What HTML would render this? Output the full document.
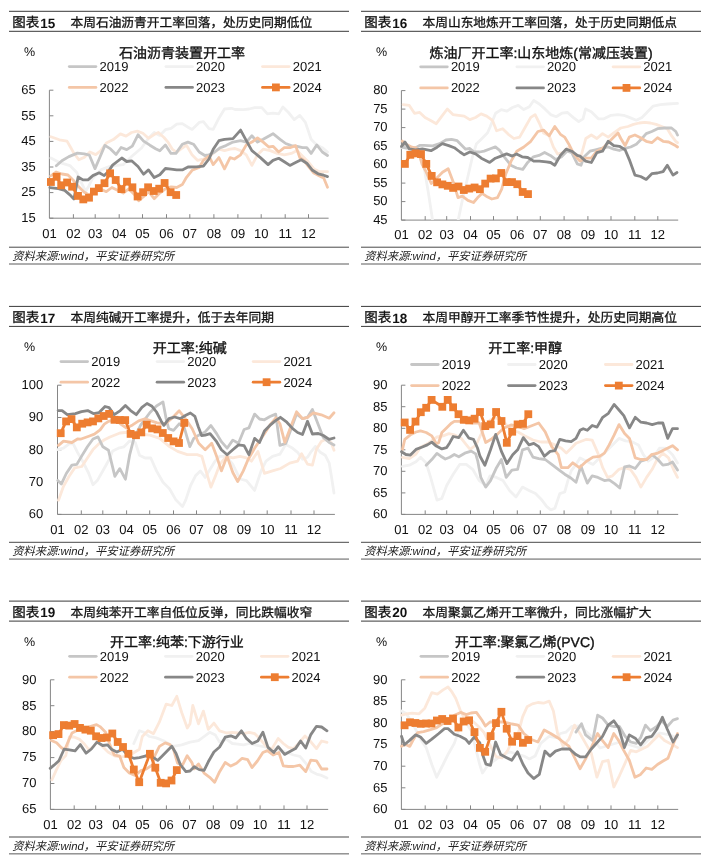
<!DOCTYPE html><html lang="zh-CN"><head><meta charset="utf-8"><style>html,body{margin:0;padding:0;background:#fff;}svg{display:block;filter:blur(0.3px);}text{font-family:"Liberation Sans", sans-serif;text-rendering:geometricPrecision;}</style></head><body>
<svg width="710" height="863" viewBox="0 0 710 863">
<rect width="710" height="863" fill="#fff"/>
<rect x="9" y="10.8" width="340" height="1" fill="#3a3a3a"/>
<rect x="9" y="30.8" width="340" height="1" fill="#3a3a3a"/>
<text x="12.2" y="27.2" font-size="13.5" fill="#111"><tspan stroke="#111" stroke-width="0.3">图表</tspan><tspan font-weight="bold" dx="1" dy="0.4">15</tspan></text>
<text x="70.5" y="27.1" font-size="12.73" fill="#111" stroke="#111" stroke-width="0.3">本周石油沥青开工率回落，处历史同期低位</text>
<rect x="9" y="246.7" width="340" height="1" fill="#4a4a4a"/>
<rect x="9" y="263.3" width="340" height="1.4" fill="#8a8a8a"/>
<text x="12.2" y="260.1" font-size="11.3" font-style="italic" fill="#222">资料来源:wind，平安证券研究所</text>
<text x="24" y="55.8" font-size="12.5" fill="#111">%</text>
<text x="118.9" y="57.6" font-size="14" fill="#111" stroke="#111" stroke-width="0.35">石油沥青装置开工率</text>
<line x1="69.3" y1="66.6" x2="95.9" y2="66.6" stroke="#c6c6c6" stroke-width="2.8" stroke-linecap="round"/>
<text x="99.5" y="71" font-size="13" fill="#111">2019</text>
<line x1="165.9" y1="66.6" x2="192.5" y2="66.6" stroke="#f1f1f1" stroke-width="2.8" stroke-linecap="round"/>
<text x="196.1" y="71" font-size="13" fill="#111">2020</text>
<line x1="262.5" y1="66.6" x2="289.1" y2="66.6" stroke="#fce8da" stroke-width="2.8" stroke-linecap="round"/>
<text x="292.7" y="71" font-size="13" fill="#111">2021</text>
<line x1="69.3" y1="87.4" x2="95.9" y2="87.4" stroke="#f4c6a7" stroke-width="2.8" stroke-linecap="round"/>
<text x="99.5" y="91.8" font-size="13" fill="#111">2022</text>
<line x1="165.9" y1="87.4" x2="192.5" y2="87.4" stroke="#878787" stroke-width="2.8" stroke-linecap="round"/>
<text x="196.1" y="91.8" font-size="13" fill="#111">2023</text>
<line x1="262.5" y1="87.4" x2="289.1" y2="87.4" stroke="#ed7d31" stroke-width="2.8" stroke-linecap="round"/>
<rect x="272" y="83.5" width="7.8" height="7.8" fill="#ed7d31"/>
<text x="292.7" y="91.8" font-size="13" fill="#111">2024</text>
<path d="M49.4 90.2V218.2H328.6" fill="none" stroke="#868686" stroke-width="1"/>
<line x1="49.4" y1="218.2" x2="53.4" y2="218.2" stroke="#868686" stroke-width="1"/>
<text x="35.8" y="222" font-size="13" text-anchor="end" fill="#111">15</text>
<line x1="49.4" y1="192.6" x2="53.4" y2="192.6" stroke="#868686" stroke-width="1"/>
<text x="35.8" y="196.4" font-size="13" text-anchor="end" fill="#111">25</text>
<line x1="49.4" y1="167" x2="53.4" y2="167" stroke="#868686" stroke-width="1"/>
<text x="35.8" y="170.8" font-size="13" text-anchor="end" fill="#111">35</text>
<line x1="49.4" y1="141.4" x2="53.4" y2="141.4" stroke="#868686" stroke-width="1"/>
<text x="35.8" y="145.2" font-size="13" text-anchor="end" fill="#111">45</text>
<line x1="49.4" y1="115.8" x2="53.4" y2="115.8" stroke="#868686" stroke-width="1"/>
<text x="35.8" y="119.6" font-size="13" text-anchor="end" fill="#111">55</text>
<line x1="49.4" y1="90.2" x2="53.4" y2="90.2" stroke="#868686" stroke-width="1"/>
<text x="35.8" y="94" font-size="13" text-anchor="end" fill="#111">65</text>
<text x="49.4" y="237.6" font-size="13" text-anchor="middle" fill="#111">01</text>
<line x1="73.4" y1="218.2" x2="73.4" y2="214.2" stroke="#868686" stroke-width="1"/>
<text x="73.4" y="237.6" font-size="13" text-anchor="middle" fill="#111">02</text>
<line x1="95.2" y1="218.2" x2="95.2" y2="214.2" stroke="#868686" stroke-width="1"/>
<text x="95.2" y="237.6" font-size="13" text-anchor="middle" fill="#111">03</text>
<line x1="119.2" y1="218.2" x2="119.2" y2="214.2" stroke="#868686" stroke-width="1"/>
<text x="119.2" y="237.6" font-size="13" text-anchor="middle" fill="#111">04</text>
<line x1="142.5" y1="218.2" x2="142.5" y2="214.2" stroke="#868686" stroke-width="1"/>
<text x="142.5" y="237.6" font-size="13" text-anchor="middle" fill="#111">05</text>
<line x1="166.5" y1="218.2" x2="166.5" y2="214.2" stroke="#868686" stroke-width="1"/>
<text x="166.5" y="237.6" font-size="13" text-anchor="middle" fill="#111">06</text>
<line x1="189.8" y1="218.2" x2="189.8" y2="214.2" stroke="#868686" stroke-width="1"/>
<text x="189.8" y="237.6" font-size="13" text-anchor="middle" fill="#111">07</text>
<line x1="213.9" y1="218.2" x2="213.9" y2="214.2" stroke="#868686" stroke-width="1"/>
<text x="213.9" y="237.6" font-size="13" text-anchor="middle" fill="#111">08</text>
<line x1="237.9" y1="218.2" x2="237.9" y2="214.2" stroke="#868686" stroke-width="1"/>
<text x="237.9" y="237.6" font-size="13" text-anchor="middle" fill="#111">09</text>
<line x1="261.2" y1="218.2" x2="261.2" y2="214.2" stroke="#868686" stroke-width="1"/>
<text x="261.2" y="237.6" font-size="13" text-anchor="middle" fill="#111">10</text>
<line x1="285.2" y1="218.2" x2="285.2" y2="214.2" stroke="#868686" stroke-width="1"/>
<text x="285.2" y="237.6" font-size="13" text-anchor="middle" fill="#111">11</text>
<line x1="308.5" y1="218.2" x2="308.5" y2="214.2" stroke="#868686" stroke-width="1"/>
<text x="308.5" y="237.6" font-size="13" text-anchor="middle" fill="#111">12</text>
<clipPath id="cp0"><rect x="44.4" y="78.2" width="285.2" height="140"/></clipPath>
<g clip-path="url(#cp0)">
<polyline points="50.9,158 60,162.7 69.9,165.6 76.8,172.5 80.7,181.4 83.7,187.3 85.6,191.3 88.6,186.4 92.5,178.5 101.4,169.6 109.3,166.6 115.2,165.6 123.1,164.7 131.6,156.5 141.5,148 148.5,138.2 154.2,132.5 159.8,135.4 165.4,129.7 171.1,128.3 176.7,124.1 182.3,123.6 189.3,128 192.1,129.4 199.2,122.4 203.4,121.7 209,128.7 213.2,129.4 218.9,118.2 224.5,109 231.5,108.3 235,109.5 243.5,109.7 249.1,109 254.7,107.6 261.8,107.6 267.4,113.9 273,113.2 278.7,113.9 282.9,106.9 288.5,112.5 294.2,119.6 299.8,115.4 305.4,122.4 311.1,139.3 316.7,144.9 322.3,147.7 327.5,152" fill="none" stroke="#f1f1f1" stroke-width="2.8" stroke-linejoin="round" stroke-linecap="round"/>
<polyline points="50.9,136.8 59.4,139.8 67,141.1 70.4,147 73.7,152.9 78.8,159.7 84.7,157.1 89.8,152 95.7,154.6 100.6,150.8 106.3,143.1 113.3,139.6 120.4,133.9 126,136.1 131.6,132.5 137.3,131.1 142.9,133.2 148.5,138.2 154.2,134.6 158.4,132.5 164,137.5 168.2,142.4 172.5,149.4 176.7,152.3 182.3,148 186.5,145.2 192.2,155.1 197.7,160.4 203.4,159 207.6,157.6 213.2,153.4 218.9,149.2 224.5,150.6 230.1,149.2 235,148.5 240.6,150.6 246.3,154.8 251.9,165.4 257.5,154.8 263.2,149.2 270.2,150.6 277.3,153.4 284.3,154.8 291.3,153.4 297,150.6 302.6,156.2 308.2,161.8 313.9,168.9 319.5,171.7 327.5,171.7" fill="none" stroke="#fce8da" stroke-width="2.8" stroke-linejoin="round" stroke-linecap="round"/>
<polyline points="56.3,165.8 61.9,160.8 68.9,156.6 77.4,153.1 84.4,153.8 89.4,155.2 95,168.6 99.9,157.3 104.9,145.4 110.5,148.9 116.1,154.5 121.1,147.5 126.7,149.6 132.3,146.1 138,134.8 143.6,141.1 149.9,145.2 155.6,148.7 159.8,150.8 165.4,144.9 171,153.4 175.9,153.4 182.3,144.2 187.9,142.1 193.5,144.2 199.2,152 204.8,155.5 209,154.8 214.6,152 220.3,147.7 225.9,145.6 233,142.1 240.6,140.7 246.3,142.1 251.9,135.8 257.5,142.1 263.2,139.3 273,133.7 280.1,139.3 285.7,143.5 291.3,145.6 297,146.3 302.6,147.7 306.8,147.7 311.1,153.4 316.7,144.9 322.3,152 327.5,155.5" fill="none" stroke="#c6c6c6" stroke-width="2.8" stroke-linejoin="round" stroke-linecap="round"/>
<polyline points="50.6,176 56,172 62,174 68,175 73,180 78,186 84,192 89,195 95,190.3 100.6,188.9 106.3,191.7 111.9,187.5 117.5,190.3 123.2,193.1 128.8,188.9 134.4,194.5 138.7,200.8 144.3,195.9 148.5,191.7 154.2,198.7 159.8,193.1 165.4,188.9 171.1,186.8 176.7,187.5 182.3,184.6 186.5,177.3 192.1,170.3 199.2,167.5 203.4,160.4 209,156.2 213.2,164.6 218.9,157.6 224.5,168.9 230.1,157.6 234.4,159 240.6,154.8 246.3,144.9 251.9,142.1 257.5,137.9 263.2,142.1 268.8,147 273,146.3 278.7,152 284.3,147.7 289.9,147.7 295.6,145.6 299.8,157.6 304,160.4 308.2,166.1 313.9,173.1 319.5,175.9 323.7,178 327.5,187.2" fill="none" stroke="#f4c6a7" stroke-width="2.8" stroke-linejoin="round" stroke-linecap="round"/>
<polyline points="49.9,187.6 58.4,188.7 64.7,190.4 69.6,194.6 73.9,198.9 78.1,177 83,179.9 88,179.9 92.9,175.6 99.2,172.8 104.2,175.6 108.4,171.4 112.6,165.1 121.8,158 126.7,161.5 131.6,160.8 138,166.5 143.6,174.2 148.5,169.9 154.2,177.6 159.8,174.8 165.4,168.5 171.1,169.2 176.7,169.9 182.3,169.9 188,167 196.3,166.8 203.4,166.1 209,159 213.2,149.2 218.9,140.7 224.5,139.3 233,138.6 240.6,130.1 246.3,140.7 251.9,150.6 260.4,157.6 268.1,164.6 273,160.4 278.7,158.3 284.3,161.8 289.9,165.4 295.6,162.5 301.2,159.7 306.8,163.2 312.5,170.3 318.1,173.8 323.7,175.2 327.5,176.6" fill="none" stroke="#878787" stroke-width="2.8" stroke-linejoin="round" stroke-linecap="round"/>
<polyline points="50.9,182 56.6,176.8 61.2,185.3 67.1,182.5 72.1,186.7 78,195.9 83.3,199.4 89,197.7 93.9,191.6 98.8,188.1 104.5,183.2 110.1,173.3 115.7,180 121.4,189.1 127,181.7 132.4,187.3 137.6,196.5 143.1,192.2 148.1,187.3 153.8,191 159.2,188.7 164.6,183 170.6,192.2 176.2,195" fill="none" stroke="#ed7d31" stroke-width="2.8" stroke-linejoin="round" stroke-linecap="round"/>
<rect x="47" y="178.1" width="7.8" height="7.8" fill="#ed7d31"/>
<rect x="52.7" y="172.9" width="7.8" height="7.8" fill="#ed7d31"/>
<rect x="57.3" y="181.4" width="7.8" height="7.8" fill="#ed7d31"/>
<rect x="63.2" y="178.6" width="7.8" height="7.8" fill="#ed7d31"/>
<rect x="68.2" y="182.8" width="7.8" height="7.8" fill="#ed7d31"/>
<rect x="74.1" y="192" width="7.8" height="7.8" fill="#ed7d31"/>
<rect x="79.4" y="195.5" width="7.8" height="7.8" fill="#ed7d31"/>
<rect x="85.1" y="193.8" width="7.8" height="7.8" fill="#ed7d31"/>
<rect x="90" y="187.7" width="7.8" height="7.8" fill="#ed7d31"/>
<rect x="94.9" y="184.2" width="7.8" height="7.8" fill="#ed7d31"/>
<rect x="100.6" y="179.3" width="7.8" height="7.8" fill="#ed7d31"/>
<rect x="106.2" y="169.4" width="7.8" height="7.8" fill="#ed7d31"/>
<rect x="111.8" y="176.1" width="7.8" height="7.8" fill="#ed7d31"/>
<rect x="117.5" y="185.2" width="7.8" height="7.8" fill="#ed7d31"/>
<rect x="123.1" y="177.8" width="7.8" height="7.8" fill="#ed7d31"/>
<rect x="128.5" y="183.4" width="7.8" height="7.8" fill="#ed7d31"/>
<rect x="133.7" y="192.6" width="7.8" height="7.8" fill="#ed7d31"/>
<rect x="139.2" y="188.3" width="7.8" height="7.8" fill="#ed7d31"/>
<rect x="144.2" y="183.4" width="7.8" height="7.8" fill="#ed7d31"/>
<rect x="149.9" y="187.1" width="7.8" height="7.8" fill="#ed7d31"/>
<rect x="155.3" y="184.8" width="7.8" height="7.8" fill="#ed7d31"/>
<rect x="160.7" y="179.1" width="7.8" height="7.8" fill="#ed7d31"/>
<rect x="166.7" y="188.3" width="7.8" height="7.8" fill="#ed7d31"/>
<rect x="172.3" y="191.1" width="7.8" height="7.8" fill="#ed7d31"/>
</g>
<rect x="361" y="10.8" width="340" height="1" fill="#3a3a3a"/>
<rect x="361" y="30.8" width="340" height="1" fill="#3a3a3a"/>
<text x="364.2" y="27.2" font-size="13.5" fill="#111"><tspan stroke="#111" stroke-width="0.3">图表</tspan><tspan font-weight="bold" dx="1" dy="0.4">16</tspan></text>
<text x="422.5" y="27.1" font-size="12.73" fill="#111" stroke="#111" stroke-width="0.3">本周山东地炼开工率回落，处于历史同期低点</text>
<rect x="361" y="246.7" width="340" height="1" fill="#4a4a4a"/>
<rect x="361" y="263.3" width="340" height="1.4" fill="#8a8a8a"/>
<text x="364.2" y="260.1" font-size="11.3" font-style="italic" fill="#222">资料来源:wind，平安证券研究所</text>
<text x="376" y="55.8" font-size="12.5" fill="#111">%</text>
<text x="429.4" y="57.6" font-size="14" fill="#111" stroke="#111" stroke-width="0.35">炼油厂开工率:山东地炼(常减压装置)</text>
<line x1="420.7" y1="66.8" x2="447.3" y2="66.8" stroke="#c6c6c6" stroke-width="2.8" stroke-linecap="round"/>
<text x="450.9" y="71.2" font-size="13" fill="#111">2019</text>
<line x1="516.9" y1="66.8" x2="543.5" y2="66.8" stroke="#f1f1f1" stroke-width="2.8" stroke-linecap="round"/>
<text x="547.1" y="71.2" font-size="13" fill="#111">2020</text>
<line x1="613.1" y1="66.8" x2="639.7" y2="66.8" stroke="#fce8da" stroke-width="2.8" stroke-linecap="round"/>
<text x="643.3" y="71.2" font-size="13" fill="#111">2021</text>
<line x1="420.7" y1="87.9" x2="447.3" y2="87.9" stroke="#f4c6a7" stroke-width="2.8" stroke-linecap="round"/>
<text x="450.9" y="92.3" font-size="13" fill="#111">2022</text>
<line x1="516.9" y1="87.9" x2="543.5" y2="87.9" stroke="#878787" stroke-width="2.8" stroke-linecap="round"/>
<text x="547.1" y="92.3" font-size="13" fill="#111">2023</text>
<line x1="613.1" y1="87.9" x2="639.7" y2="87.9" stroke="#ed7d31" stroke-width="2.8" stroke-linecap="round"/>
<rect x="622.6" y="84" width="7.8" height="7.8" fill="#ed7d31"/>
<text x="643.3" y="92.3" font-size="13" fill="#111">2024</text>
<path d="M401.4 90.6V220.1H678.2" fill="none" stroke="#868686" stroke-width="1"/>
<line x1="401.4" y1="220.1" x2="405.4" y2="220.1" stroke="#868686" stroke-width="1"/>
<text x="387.6" y="223.9" font-size="13" text-anchor="end" fill="#111">45</text>
<line x1="401.4" y1="201.6" x2="405.4" y2="201.6" stroke="#868686" stroke-width="1"/>
<text x="387.6" y="205.4" font-size="13" text-anchor="end" fill="#111">50</text>
<line x1="401.4" y1="183.1" x2="405.4" y2="183.1" stroke="#868686" stroke-width="1"/>
<text x="387.6" y="186.9" font-size="13" text-anchor="end" fill="#111">55</text>
<line x1="401.4" y1="164.6" x2="405.4" y2="164.6" stroke="#868686" stroke-width="1"/>
<text x="387.6" y="168.4" font-size="13" text-anchor="end" fill="#111">60</text>
<line x1="401.4" y1="146.1" x2="405.4" y2="146.1" stroke="#868686" stroke-width="1"/>
<text x="387.6" y="149.9" font-size="13" text-anchor="end" fill="#111">65</text>
<line x1="401.4" y1="127.6" x2="405.4" y2="127.6" stroke="#868686" stroke-width="1"/>
<text x="387.6" y="131.4" font-size="13" text-anchor="end" fill="#111">70</text>
<line x1="401.4" y1="109.1" x2="405.4" y2="109.1" stroke="#868686" stroke-width="1"/>
<text x="387.6" y="112.9" font-size="13" text-anchor="end" fill="#111">75</text>
<line x1="401.4" y1="90.6" x2="405.4" y2="90.6" stroke="#868686" stroke-width="1"/>
<text x="387.6" y="94.4" font-size="13" text-anchor="end" fill="#111">80</text>
<text x="401.4" y="238.7" font-size="13" text-anchor="middle" fill="#111">01</text>
<line x1="425.2" y1="220.1" x2="425.2" y2="216.1" stroke="#868686" stroke-width="1"/>
<text x="425.2" y="238.7" font-size="13" text-anchor="middle" fill="#111">02</text>
<line x1="446.7" y1="220.1" x2="446.7" y2="216.1" stroke="#868686" stroke-width="1"/>
<text x="446.7" y="238.7" font-size="13" text-anchor="middle" fill="#111">03</text>
<line x1="470.5" y1="220.1" x2="470.5" y2="216.1" stroke="#868686" stroke-width="1"/>
<text x="470.5" y="238.7" font-size="13" text-anchor="middle" fill="#111">04</text>
<line x1="493.5" y1="220.1" x2="493.5" y2="216.1" stroke="#868686" stroke-width="1"/>
<text x="493.5" y="238.7" font-size="13" text-anchor="middle" fill="#111">05</text>
<line x1="517.3" y1="220.1" x2="517.3" y2="216.1" stroke="#868686" stroke-width="1"/>
<text x="517.3" y="238.7" font-size="13" text-anchor="middle" fill="#111">06</text>
<line x1="540.3" y1="220.1" x2="540.3" y2="216.1" stroke="#868686" stroke-width="1"/>
<text x="540.3" y="238.7" font-size="13" text-anchor="middle" fill="#111">07</text>
<line x1="564.1" y1="220.1" x2="564.1" y2="216.1" stroke="#868686" stroke-width="1"/>
<text x="564.1" y="238.7" font-size="13" text-anchor="middle" fill="#111">08</text>
<line x1="587.9" y1="220.1" x2="587.9" y2="216.1" stroke="#868686" stroke-width="1"/>
<text x="587.9" y="238.7" font-size="13" text-anchor="middle" fill="#111">09</text>
<line x1="611" y1="220.1" x2="611" y2="216.1" stroke="#868686" stroke-width="1"/>
<text x="611" y="238.7" font-size="13" text-anchor="middle" fill="#111">10</text>
<line x1="634.8" y1="220.1" x2="634.8" y2="216.1" stroke="#868686" stroke-width="1"/>
<text x="634.8" y="238.7" font-size="13" text-anchor="middle" fill="#111">11</text>
<line x1="657.8" y1="220.1" x2="657.8" y2="216.1" stroke="#868686" stroke-width="1"/>
<text x="657.8" y="238.7" font-size="13" text-anchor="middle" fill="#111">12</text>
<clipPath id="cp1"><rect x="396.4" y="78.6" width="282.8" height="141.5"/></clipPath>
<g clip-path="url(#cp1)">
<polyline points="401.5,147.5 408,148 414,150 419,155 424.2,168 428.5,193.4 432.7,221 445,226 458,221 462.3,200.4 467.9,176.5 472.1,158.2 476.3,144.1 482,138.5 487.6,132.8 490,127.3 495.6,113.2 501.3,109.6 506.9,111.1 512.5,107.5 518.2,105.4 523.8,109.6 529.4,106.8 533.7,100.5 539.3,104 544.9,108.9 550.6,114.6 556.2,116.7 561.8,113.2 567.5,112.5 573.1,117.4 578.7,121.6 583,118.8 585.6,108.9 591.3,111.8 598.3,118.8 603.9,118.8 611,115.3 618,114.6 623.7,115.3 629.3,117.4 636.3,120.2 642,117.4 647.6,111.8 653.2,106.1 660.3,104.7 667.3,104 677.5,103.3" fill="none" stroke="#f1f1f1" stroke-width="2.8" stroke-linejoin="round" stroke-linecap="round"/>
<polyline points="403.2,104.6 409.3,105.4 414.5,113.3 419.7,112.4 425,117.6 430.2,120.2 436.3,123.7 441.5,116.7 447.3,109 452.9,114.6 458.6,115.4 464.2,116.1 469.8,119.6 475.5,117.5 481.1,113.9 486.7,116.1 492.4,120.3 496.6,130.8 502.7,128.7 508.3,134.3 513.9,138.5 519.6,137.1 525.2,127.3 530.8,117.4 535.1,114.6 539.3,123 543.5,132.9 549.2,135.7 553.4,147 557.6,154 563.2,152.6 568.9,147 574.5,155.4 580.1,159.6 585.8,138.5 591.3,135 596.9,138.5 602.5,133.6 608.2,137.1 613.8,132.9 620.8,128 627.9,126.5 633.5,124.4 639.2,123 644.8,122.3 650.4,123 656.1,124.4 661.7,126.5 667.3,128.7 671.5,135.7 675.8,141.3 677.5,142.7" fill="none" stroke="#fce8da" stroke-width="2.8" stroke-linejoin="round" stroke-linecap="round"/>
<polyline points="401.5,147.2 406.7,148 415.4,148 419.7,145.4 424.1,145.4 432.8,145.9 439.7,143.7 445.9,140 451.5,139.3 457.2,140.7 461.4,144.9 465.6,149.2 469.8,148.5 474.1,152 479.7,152 484.1,151.1 489.7,149 495.4,146.9 499.6,150.4 505.2,158.2 510.8,165.2 516.5,168 522.8,169.4 527.7,162.4 533.4,156.8 539,155.4 544.6,152.5 550.3,155.4 555.9,159.6 561.5,156.8 567.2,151.1 571.7,152.6 577.3,163.9 581,165.3 584.2,156.8 589.9,151.2 595.5,149.8 601.1,148.4 608.2,147 613.8,149.1 619.4,150.5 625.1,148.4 630.7,147 636.3,144.2 642,138.5 646.2,133.6 651.8,131.5 657.5,128.7 664.5,128 671.5,128 675.8,131.5 677.5,135" fill="none" stroke="#c6c6c6" stroke-width="2.8" stroke-linejoin="round" stroke-linecap="round"/>
<polyline points="402.3,141.1 406.7,144.6 411.9,147.2 416.3,148 419.7,155.9 422,164 425.6,170.8 431.3,183.5 436.9,177.9 442.5,172.3 448.2,168.7 453.8,183.5 458,197.6 462.3,196.2 467.9,200.4 473.5,202.5 477.7,197.6 482,193.4 486.2,196.2 491.8,199 497.5,197.6 501.7,189.2 505.9,173.7 511.1,161.1 516.8,151.2 523.8,147 530.8,141.3 537.9,131.5 543.5,130.1 549.2,135.7 554.8,126.5 560.4,134.3 564.6,137.1 568.9,144.2 573.1,152.6 577.3,158.2 580,161.1 585.6,158.2 591.3,158.2 596.9,151.2 602.5,148.4 608.2,142.7 613.8,137.1 618,132.9 620.8,138.5 625.1,145.6 629.3,137.1 634.9,135 640.6,137.8 646.2,141.3 651.8,142.7 657.5,137.8 663.1,141.3 668.7,142 674.4,144.9 677.5,147" fill="none" stroke="#f4c6a7" stroke-width="2.8" stroke-linejoin="round" stroke-linecap="round"/>
<polyline points="401.5,146.3 405,142 409.3,148.9 415.4,149.8 422.3,148.9 431,150.7 437.1,147.2 442.3,143.7 448.7,145.6 454.3,147.7 460,152 464.2,154.8 469.8,152 475.6,153.9 481.3,158.2 489.7,162.4 495.4,158.2 501,156.1 506.6,153.9 512.3,156.1 516.5,153.9 522.1,156.8 527.7,157.5 533.7,161.1 539.3,161.1 546.3,161.8 550.6,162.5 554.8,165.3 560.4,155.4 566.1,149.1 571.7,151.2 577.3,155.4 580,156.1 585.6,161.1 591.3,162.5 596.9,152.6 602.5,151.2 608.2,141.3 613.8,145.6 619.4,146.3 625.1,149.8 629.3,159.6 634.9,175.1 640.6,176.5 646.2,179.4 651.8,173.7 657.5,173 663.1,171.6 667.3,165.3 673,175.1 677,172.5" fill="none" stroke="#878787" stroke-width="2.8" stroke-linejoin="round" stroke-linecap="round"/>
<polyline points="404.9,163.9 410.3,154.8 415.6,153.4 421,154.1 426.3,163.9 431.7,175.9 437.1,182.3 442.4,184.4 447.8,185.8 453.1,187.9 458.5,186.5 463.8,190 469.2,188.6 474.6,187.5 479.9,189.2 485.2,183.6 490.6,178.6 495.9,178.4 501.3,173 506.6,182.1 512,182.1 517.3,184.2 522.7,192 528,194.1" fill="none" stroke="#ed7d31" stroke-width="2.8" stroke-linejoin="round" stroke-linecap="round"/>
<rect x="401" y="160" width="7.8" height="7.8" fill="#ed7d31"/>
<rect x="406.4" y="150.9" width="7.8" height="7.8" fill="#ed7d31"/>
<rect x="411.7" y="149.5" width="7.8" height="7.8" fill="#ed7d31"/>
<rect x="417.1" y="150.2" width="7.8" height="7.8" fill="#ed7d31"/>
<rect x="422.4" y="160" width="7.8" height="7.8" fill="#ed7d31"/>
<rect x="427.8" y="172" width="7.8" height="7.8" fill="#ed7d31"/>
<rect x="433.2" y="178.4" width="7.8" height="7.8" fill="#ed7d31"/>
<rect x="438.5" y="180.5" width="7.8" height="7.8" fill="#ed7d31"/>
<rect x="443.9" y="181.9" width="7.8" height="7.8" fill="#ed7d31"/>
<rect x="449.2" y="184" width="7.8" height="7.8" fill="#ed7d31"/>
<rect x="454.6" y="182.6" width="7.8" height="7.8" fill="#ed7d31"/>
<rect x="459.9" y="186.1" width="7.8" height="7.8" fill="#ed7d31"/>
<rect x="465.3" y="184.7" width="7.8" height="7.8" fill="#ed7d31"/>
<rect x="470.7" y="183.6" width="7.8" height="7.8" fill="#ed7d31"/>
<rect x="476" y="185.3" width="7.8" height="7.8" fill="#ed7d31"/>
<rect x="481.3" y="179.7" width="7.8" height="7.8" fill="#ed7d31"/>
<rect x="486.7" y="174.7" width="7.8" height="7.8" fill="#ed7d31"/>
<rect x="492" y="174.5" width="7.8" height="7.8" fill="#ed7d31"/>
<rect x="497.4" y="169.1" width="7.8" height="7.8" fill="#ed7d31"/>
<rect x="502.7" y="178.2" width="7.8" height="7.8" fill="#ed7d31"/>
<rect x="508.1" y="178.2" width="7.8" height="7.8" fill="#ed7d31"/>
<rect x="513.4" y="180.3" width="7.8" height="7.8" fill="#ed7d31"/>
<rect x="518.8" y="188.1" width="7.8" height="7.8" fill="#ed7d31"/>
<rect x="524.1" y="190.2" width="7.8" height="7.8" fill="#ed7d31"/>
</g>
<rect x="9" y="305.9" width="340" height="1" fill="#3a3a3a"/>
<rect x="9" y="325.9" width="340" height="1" fill="#3a3a3a"/>
<text x="12.2" y="322.3" font-size="13.5" fill="#111"><tspan stroke="#111" stroke-width="0.3">图表</tspan><tspan font-weight="bold" dx="1" dy="0.4">17</tspan></text>
<text x="70.5" y="322.2" font-size="12.73" fill="#111" stroke="#111" stroke-width="0.3">本周纯碱开工率提升，低于去年同期</text>
<rect x="9" y="541.8" width="340" height="1" fill="#4a4a4a"/>
<rect x="9" y="558.4" width="340" height="1.4" fill="#8a8a8a"/>
<text x="12.2" y="555.2" font-size="11.3" font-style="italic" fill="#222">资料来源:wind，平安证券研究所</text>
<text x="24" y="350.9" font-size="12.5" fill="#111">%</text>
<text x="152.8" y="352.7" font-size="14" fill="#111" stroke="#111" stroke-width="0.35">开工率:纯碱</text>
<line x1="61" y1="361.6" x2="87.6" y2="361.6" stroke="#c6c6c6" stroke-width="2.8" stroke-linecap="round"/>
<text x="91.2" y="366" font-size="13" fill="#111">2019</text>
<line x1="157.1" y1="361.6" x2="183.7" y2="361.6" stroke="#f1f1f1" stroke-width="2.8" stroke-linecap="round"/>
<text x="187.3" y="366" font-size="13" fill="#111">2020</text>
<line x1="253.2" y1="361.6" x2="279.8" y2="361.6" stroke="#fce8da" stroke-width="2.8" stroke-linecap="round"/>
<text x="283.4" y="366" font-size="13" fill="#111">2021</text>
<line x1="61" y1="382.2" x2="87.6" y2="382.2" stroke="#f4c6a7" stroke-width="2.8" stroke-linecap="round"/>
<text x="91.2" y="386.6" font-size="13" fill="#111">2022</text>
<line x1="157.1" y1="382.2" x2="183.7" y2="382.2" stroke="#878787" stroke-width="2.8" stroke-linecap="round"/>
<text x="187.3" y="386.6" font-size="13" fill="#111">2023</text>
<line x1="253.2" y1="382.2" x2="279.8" y2="382.2" stroke="#ed7d31" stroke-width="2.8" stroke-linecap="round"/>
<rect x="262.7" y="378.3" width="7.8" height="7.8" fill="#ed7d31"/>
<text x="283.4" y="386.6" font-size="13" fill="#111">2024</text>
<path d="M57.5 385.2V514.4H334.9" fill="none" stroke="#868686" stroke-width="1"/>
<line x1="57.5" y1="514.4" x2="61.5" y2="514.4" stroke="#868686" stroke-width="1"/>
<text x="43.2" y="518.2" font-size="13" text-anchor="end" fill="#111">60</text>
<line x1="57.5" y1="482.1" x2="61.5" y2="482.1" stroke="#868686" stroke-width="1"/>
<text x="43.2" y="485.9" font-size="13" text-anchor="end" fill="#111">70</text>
<line x1="57.5" y1="449.8" x2="61.5" y2="449.8" stroke="#868686" stroke-width="1"/>
<text x="43.2" y="453.6" font-size="13" text-anchor="end" fill="#111">80</text>
<line x1="57.5" y1="417.5" x2="61.5" y2="417.5" stroke="#868686" stroke-width="1"/>
<text x="43.2" y="421.3" font-size="13" text-anchor="end" fill="#111">90</text>
<line x1="57.5" y1="385.2" x2="61.5" y2="385.2" stroke="#868686" stroke-width="1"/>
<text x="43.2" y="389" font-size="13" text-anchor="end" fill="#111">100</text>
<text x="57.5" y="533.8" font-size="13" text-anchor="middle" fill="#111">01</text>
<line x1="81.3" y1="514.4" x2="81.3" y2="510.4" stroke="#868686" stroke-width="1"/>
<text x="81.3" y="533.8" font-size="13" text-anchor="middle" fill="#111">02</text>
<line x1="102.8" y1="514.4" x2="102.8" y2="510.4" stroke="#868686" stroke-width="1"/>
<text x="102.8" y="533.8" font-size="13" text-anchor="middle" fill="#111">03</text>
<line x1="126.6" y1="514.4" x2="126.6" y2="510.4" stroke="#868686" stroke-width="1"/>
<text x="126.6" y="533.8" font-size="13" text-anchor="middle" fill="#111">04</text>
<line x1="149.7" y1="514.4" x2="149.7" y2="510.4" stroke="#868686" stroke-width="1"/>
<text x="149.7" y="533.8" font-size="13" text-anchor="middle" fill="#111">05</text>
<line x1="173.5" y1="514.4" x2="173.5" y2="510.4" stroke="#868686" stroke-width="1"/>
<text x="173.5" y="533.8" font-size="13" text-anchor="middle" fill="#111">06</text>
<line x1="196.5" y1="514.4" x2="196.5" y2="510.4" stroke="#868686" stroke-width="1"/>
<text x="196.5" y="533.8" font-size="13" text-anchor="middle" fill="#111">07</text>
<line x1="220.3" y1="514.4" x2="220.3" y2="510.4" stroke="#868686" stroke-width="1"/>
<text x="220.3" y="533.8" font-size="13" text-anchor="middle" fill="#111">08</text>
<line x1="244.1" y1="514.4" x2="244.1" y2="510.4" stroke="#868686" stroke-width="1"/>
<text x="244.1" y="533.8" font-size="13" text-anchor="middle" fill="#111">09</text>
<line x1="267.2" y1="514.4" x2="267.2" y2="510.4" stroke="#868686" stroke-width="1"/>
<text x="267.2" y="533.8" font-size="13" text-anchor="middle" fill="#111">10</text>
<line x1="291" y1="514.4" x2="291" y2="510.4" stroke="#868686" stroke-width="1"/>
<text x="291" y="533.8" font-size="13" text-anchor="middle" fill="#111">11</text>
<line x1="314" y1="514.4" x2="314" y2="510.4" stroke="#868686" stroke-width="1"/>
<text x="314" y="533.8" font-size="13" text-anchor="middle" fill="#111">12</text>
<clipPath id="cp2"><rect x="52.5" y="373.2" width="283.4" height="141.2"/></clipPath>
<g clip-path="url(#cp2)">
<polyline points="57.8,449.6 63.5,448.2 69.1,443.9 73.3,443.9 77.5,452.4 83.2,462.3 88.8,473.5 93,484.8 97.3,480.6 102.9,470.7 108.5,460.8 112.7,451 118.4,448.2 124,446.8 129.6,441.1 135.3,442.5 139.5,455.2 145.1,458 150.8,458 156.5,470.9 163,482.3 169.5,488.8 176,500.1 182.5,506.6 185.7,500.1 190.6,485.5 195.5,475.8 200.3,470.9 205.2,477.4 210.1,469.3 215,461.2 219.8,456.3 226.3,456.3 232.8,464.4 240,479 246.5,480.6 254.6,490.4 261.1,470.9 266,461.2 272.5,456.3 279.9,454.2 285.8,444.4 292.7,448.3 297.6,452.3 302.5,459.2 307.5,457.2 311.4,451.3 315.4,446.4 320.3,452.3 325.2,455.2 329.2,463.1 331.5,477 334,493" fill="none" stroke="#f1f1f1" stroke-width="2.8" stroke-linejoin="round" stroke-linecap="round"/>
<polyline points="58.5,500.3 63.5,486.2 69.1,476.3 74.7,467.9 81.8,466.5 87.4,458 93,449.6 98.7,443.9 104,440 110,437 120,433 130,432 140,434 150,435.2 159.7,438.4 169.5,446.6 177.6,451.4 187.3,454.7 197.1,454.7 201.9,456.3 206,470.9 210.9,487.1 214.9,477.4 219.8,464.4 226.3,456.3 232.8,457.9 240,456.3 246.5,457.9 251.4,461.2 257.9,451.4 264.4,473.3 272.5,470.9 280.6,468.5 289.7,463.1 297.6,461.1 301.6,453.7 307.5,464.1 312.4,465.1 316.4,449.3 321.3,441.4 325.2,439.4 331.1,442.4 334,450.3" fill="none" stroke="#fce8da" stroke-width="2.8" stroke-linejoin="round" stroke-linecap="round"/>
<polyline points="57.8,480.6 61.3,484.1 66.3,473.5 71.9,465.1 76.8,464.4 81.8,455.9 87.4,446.8 93,439 98,436.9 102.9,446.8 108.5,450.3 114.9,476.3 119.8,468.6 125.4,479.2 129.6,455.2 133.9,438.3 140.8,424.9 150,412.5 156.5,406 163,401.9 166.2,419 168.7,428.7 173.5,430.3 179.2,423.8 184.1,427.1 189.8,446.6 193.8,438.4 198.7,435.2 205.2,431.9 210.9,425.5 216.6,433.6 221.4,441.7 227.1,448.2 232.8,440.1 238.5,443.3 244.1,429.5 248.9,427.9 254.6,414.1 259.5,419 264.4,419.8 270,416.5 275.7,414.1 279.9,445.4 285.8,443.4 296.6,413.8 302.5,418.7 307.5,417.3 312.4,409.4 318.3,424.7 323.3,437.5 329.2,442.4 334,445" fill="none" stroke="#c6c6c6" stroke-width="2.8" stroke-linejoin="round" stroke-linecap="round"/>
<polyline points="58.5,445.4 63.5,441.1 71.9,442.5 77.5,439 80.4,439.2 88.8,436.2 94.4,434.1 100.1,429.9 104.3,424.2 108.5,421.4 112.5,420.3 117,419.4 120.3,423.9 126.5,428 132.6,424.9 138.7,420.8 144.9,418.8 151,420.8 157.1,422.9 165.3,423.9 171.4,418.8 179.2,410.8 185.7,419 192.2,428.7 198.7,443.3 205.2,449.8 211.7,443.3 216.6,456.3 221.4,470.9 227.1,456.3 232.8,472.5 237.7,481.5 243.3,470.9 248.1,459.5 254.6,448.2 264.4,433.6 270,425 275.9,417.8 279.9,423.7 284.8,442.4 289.7,429.6 296.6,411.8 302.5,418.7 307.5,417.3 313.4,412.8 321.3,414.8 329.2,418.2 334,412.8" fill="none" stroke="#f4c6a7" stroke-width="2.8" stroke-linejoin="round" stroke-linecap="round"/>
<polyline points="58.1,410.6 62.1,410.6 67.3,414.7 75.4,413.7 81.5,411.7 87.7,410.6 93.8,413.7 98.9,412.7 105,406.5 109.1,407.6 114.2,414.7 120.3,410.6 125.4,405.5 130.6,410.6 136.3,414.7 141.9,407.4 147,403.5 152,406.3 156.5,412 161.1,420.9 163.9,425.4 168.9,418.7 174.6,417 180.2,418.7 185.8,415.3 190.4,413 194.9,416.4 198.2,426.5 201.6,435.6 205.2,435.2 210.1,433.6 216.6,441.7 221.4,449.8 227.1,454.7 232.8,449.8 238.5,444.9 244.1,445.7 248.9,454.7 254.6,438.4 259.5,442.5 264.4,431.1 270.8,424.6 274.9,421.2 280.4,417.3 286.8,422.2 292.7,428.6 297.6,432.5 302.5,434.5 307.5,421.2 312.4,434 318.3,433.5 323.3,435.5 329.2,439.4 334,438" fill="none" stroke="#878787" stroke-width="2.8" stroke-linejoin="round" stroke-linecap="round"/>
<polyline points="60.7,433.2 66.1,421.4 71.5,419.1 76.8,427.4 82.2,423.7 87.6,422.4 93,421.4 98.3,418.4 103.7,416 109.1,413.9 114.5,419.8 119.8,420 125.2,420.1 130.6,433.9 136,435.2 141.3,432.4 146.7,424.7 152.1,428.4 157.5,429.4 162.8,433 168.2,438 173.6,441.4 179,443 184.3,422.9" fill="none" stroke="#ed7d31" stroke-width="2.8" stroke-linejoin="round" stroke-linecap="round"/>
<rect x="56.8" y="429.3" width="7.8" height="7.8" fill="#ed7d31"/>
<rect x="62.2" y="417.5" width="7.8" height="7.8" fill="#ed7d31"/>
<rect x="67.6" y="415.2" width="7.8" height="7.8" fill="#ed7d31"/>
<rect x="72.9" y="423.5" width="7.8" height="7.8" fill="#ed7d31"/>
<rect x="78.3" y="419.8" width="7.8" height="7.8" fill="#ed7d31"/>
<rect x="83.7" y="418.5" width="7.8" height="7.8" fill="#ed7d31"/>
<rect x="89.1" y="417.5" width="7.8" height="7.8" fill="#ed7d31"/>
<rect x="94.4" y="414.5" width="7.8" height="7.8" fill="#ed7d31"/>
<rect x="99.8" y="412.1" width="7.8" height="7.8" fill="#ed7d31"/>
<rect x="105.2" y="410" width="7.8" height="7.8" fill="#ed7d31"/>
<rect x="110.6" y="415.9" width="7.8" height="7.8" fill="#ed7d31"/>
<rect x="115.9" y="416.1" width="7.8" height="7.8" fill="#ed7d31"/>
<rect x="121.3" y="416.2" width="7.8" height="7.8" fill="#ed7d31"/>
<rect x="126.7" y="430" width="7.8" height="7.8" fill="#ed7d31"/>
<rect x="132.1" y="431.3" width="7.8" height="7.8" fill="#ed7d31"/>
<rect x="137.4" y="428.5" width="7.8" height="7.8" fill="#ed7d31"/>
<rect x="142.8" y="420.8" width="7.8" height="7.8" fill="#ed7d31"/>
<rect x="148.2" y="424.5" width="7.8" height="7.8" fill="#ed7d31"/>
<rect x="153.6" y="425.5" width="7.8" height="7.8" fill="#ed7d31"/>
<rect x="158.9" y="429.1" width="7.8" height="7.8" fill="#ed7d31"/>
<rect x="164.3" y="434.1" width="7.8" height="7.8" fill="#ed7d31"/>
<rect x="169.7" y="437.5" width="7.8" height="7.8" fill="#ed7d31"/>
<rect x="175.1" y="439.1" width="7.8" height="7.8" fill="#ed7d31"/>
<rect x="180.4" y="419" width="7.8" height="7.8" fill="#ed7d31"/>
</g>
<rect x="361" y="305.9" width="340" height="1" fill="#3a3a3a"/>
<rect x="361" y="325.9" width="340" height="1" fill="#3a3a3a"/>
<text x="364.2" y="322.3" font-size="13.5" fill="#111"><tspan stroke="#111" stroke-width="0.3">图表</tspan><tspan font-weight="bold" dx="1" dy="0.4">18</tspan></text>
<text x="422.5" y="322.2" font-size="12.73" fill="#111" stroke="#111" stroke-width="0.3">本周甲醇开工率季节性提升，处历史同期高位</text>
<rect x="361" y="541.8" width="340" height="1" fill="#4a4a4a"/>
<rect x="361" y="558.4" width="340" height="1.4" fill="#8a8a8a"/>
<text x="364.2" y="555.2" font-size="11.3" font-style="italic" fill="#222">资料来源:wind，平安证券研究所</text>
<text x="376" y="350.9" font-size="12.5" fill="#111">%</text>
<text x="488.2" y="352.7" font-size="14" fill="#111" stroke="#111" stroke-width="0.35">开工率:甲醇</text>
<line x1="411.6" y1="364.5" x2="438.2" y2="364.5" stroke="#c6c6c6" stroke-width="2.8" stroke-linecap="round"/>
<text x="441.8" y="368.9" font-size="13" fill="#111">2019</text>
<line x1="508.5" y1="364.5" x2="535.1" y2="364.5" stroke="#f1f1f1" stroke-width="2.8" stroke-linecap="round"/>
<text x="538.7" y="368.9" font-size="13" fill="#111">2020</text>
<line x1="605.4" y1="364.5" x2="632" y2="364.5" stroke="#fce8da" stroke-width="2.8" stroke-linecap="round"/>
<text x="635.6" y="368.9" font-size="13" fill="#111">2021</text>
<line x1="411.6" y1="385.6" x2="438.2" y2="385.6" stroke="#f4c6a7" stroke-width="2.8" stroke-linecap="round"/>
<text x="441.8" y="390" font-size="13" fill="#111">2022</text>
<line x1="508.5" y1="385.6" x2="535.1" y2="385.6" stroke="#878787" stroke-width="2.8" stroke-linecap="round"/>
<text x="538.7" y="390" font-size="13" fill="#111">2023</text>
<line x1="605.4" y1="385.6" x2="632" y2="385.6" stroke="#ed7d31" stroke-width="2.8" stroke-linecap="round"/>
<rect x="614.9" y="381.7" width="7.8" height="7.8" fill="#ed7d31"/>
<text x="635.6" y="390" font-size="13" fill="#111">2024</text>
<path d="M401.4 385.2V514.4H678.2" fill="none" stroke="#868686" stroke-width="1"/>
<line x1="401.4" y1="514.4" x2="405.4" y2="514.4" stroke="#868686" stroke-width="1"/>
<text x="387.4" y="518.2" font-size="13" text-anchor="end" fill="#111">60</text>
<line x1="401.4" y1="492.9" x2="405.4" y2="492.9" stroke="#868686" stroke-width="1"/>
<text x="387.4" y="496.7" font-size="13" text-anchor="end" fill="#111">65</text>
<line x1="401.4" y1="471.3" x2="405.4" y2="471.3" stroke="#868686" stroke-width="1"/>
<text x="387.4" y="475.1" font-size="13" text-anchor="end" fill="#111">70</text>
<line x1="401.4" y1="449.8" x2="405.4" y2="449.8" stroke="#868686" stroke-width="1"/>
<text x="387.4" y="453.6" font-size="13" text-anchor="end" fill="#111">75</text>
<line x1="401.4" y1="428.3" x2="405.4" y2="428.3" stroke="#868686" stroke-width="1"/>
<text x="387.4" y="432.1" font-size="13" text-anchor="end" fill="#111">80</text>
<line x1="401.4" y1="406.7" x2="405.4" y2="406.7" stroke="#868686" stroke-width="1"/>
<text x="387.4" y="410.5" font-size="13" text-anchor="end" fill="#111">85</text>
<line x1="401.4" y1="385.2" x2="405.4" y2="385.2" stroke="#868686" stroke-width="1"/>
<text x="387.4" y="389" font-size="13" text-anchor="end" fill="#111">90</text>
<text x="401.4" y="533.8" font-size="13" text-anchor="middle" fill="#111">01</text>
<line x1="425.2" y1="514.4" x2="425.2" y2="510.4" stroke="#868686" stroke-width="1"/>
<text x="425.2" y="533.8" font-size="13" text-anchor="middle" fill="#111">02</text>
<line x1="446.7" y1="514.4" x2="446.7" y2="510.4" stroke="#868686" stroke-width="1"/>
<text x="446.7" y="533.8" font-size="13" text-anchor="middle" fill="#111">03</text>
<line x1="470.5" y1="514.4" x2="470.5" y2="510.4" stroke="#868686" stroke-width="1"/>
<text x="470.5" y="533.8" font-size="13" text-anchor="middle" fill="#111">04</text>
<line x1="493.5" y1="514.4" x2="493.5" y2="510.4" stroke="#868686" stroke-width="1"/>
<text x="493.5" y="533.8" font-size="13" text-anchor="middle" fill="#111">05</text>
<line x1="517.3" y1="514.4" x2="517.3" y2="510.4" stroke="#868686" stroke-width="1"/>
<text x="517.3" y="533.8" font-size="13" text-anchor="middle" fill="#111">06</text>
<line x1="540.3" y1="514.4" x2="540.3" y2="510.4" stroke="#868686" stroke-width="1"/>
<text x="540.3" y="533.8" font-size="13" text-anchor="middle" fill="#111">07</text>
<line x1="564.1" y1="514.4" x2="564.1" y2="510.4" stroke="#868686" stroke-width="1"/>
<text x="564.1" y="533.8" font-size="13" text-anchor="middle" fill="#111">08</text>
<line x1="587.9" y1="514.4" x2="587.9" y2="510.4" stroke="#868686" stroke-width="1"/>
<text x="587.9" y="533.8" font-size="13" text-anchor="middle" fill="#111">09</text>
<line x1="611" y1="514.4" x2="611" y2="510.4" stroke="#868686" stroke-width="1"/>
<text x="611" y="533.8" font-size="13" text-anchor="middle" fill="#111">10</text>
<line x1="634.8" y1="514.4" x2="634.8" y2="510.4" stroke="#868686" stroke-width="1"/>
<text x="634.8" y="533.8" font-size="13" text-anchor="middle" fill="#111">11</text>
<line x1="657.8" y1="514.4" x2="657.8" y2="510.4" stroke="#868686" stroke-width="1"/>
<text x="657.8" y="533.8" font-size="13" text-anchor="middle" fill="#111">12</text>
<clipPath id="cp3"><rect x="396.4" y="373.2" width="282.8" height="141.2"/></clipPath>
<g clip-path="url(#cp3)">
<polyline points="402.5,466.3 409.3,465.2 416,461.8 420.5,457.3 426.2,463 430.7,477.6 437,500.1 441.8,498.5 446.7,485.5 453.2,474.2 459.7,464.4 466.2,464.4 472.7,469.3 479.2,480.6 485.7,485.5 490,475.8 496.5,477.4 503,480.6 509.5,490.4 516,496.9 522.5,487.1 529,490.4 535.5,493.6 541.9,500.1 546.8,506.6 550.9,509.9 554.9,508.2 559.8,493.6 564.7,492 567.9,480.6 571.2,470.9 576,464.4 580,457.9 586.5,461.2 593,464.4 599.5,457.9 606,451.4 612.5,444.9 619,438.4 625.5,440.9 631.9,441.7 638.4,444.9 643.3,454.7 648.2,461.2 653,457.9 659.5,448.2 666,448.2 672.5,454.7 677.5,463" fill="none" stroke="#f1f1f1" stroke-width="2.8" stroke-linejoin="round" stroke-linecap="round"/>
<polyline points="402.5,457.3 409.3,458.5 416,454 420.5,447.2 427.3,443.8 437,437 443.1,435.9 448.8,433.6 454.3,434.8 461.1,438.2 465.6,443.8 470.1,449.4 476,445 484,428 490,420 496,418 503,421 511,430 518,432 525,436 533,440 541,442 548,442 554.9,444.9 561.4,448.2 566.3,453.1 571.2,448.2 576,443.3 580,441.7 586.5,439.3 592.2,440.1 597.9,453.1 602.7,467.7 607.6,477.4 612.5,475.8 619,469.3 624.6,467.7 630.3,469.3 636,477.4 640.9,487.1 646.6,477.4 652.2,469.3 657.1,459.5 662.8,453.1 668.5,457.9 674.2,470.9 677.5,477.4" fill="none" stroke="#fce8da" stroke-width="2.8" stroke-linejoin="round" stroke-linecap="round"/>
<polyline points="426.2,465.2 431.8,459.6 436.9,453.4 440.8,456.2 445.3,459 449.8,457.3 454.3,454.5 458.8,456.8 465.6,452.8 471.2,451.1 475.7,453.9 477.8,461.2 480.8,477.4 485.7,487.1 490.5,480.6 496.5,467.7 501.4,459.5 506.2,477.4 511.9,470.1 517.6,469.3 522.5,449.8 528.1,448.2 533,457.1 538.7,458.7 545.2,459.5 551.7,464.4 558.2,469.3 564.7,474.2 571.2,478.2 576,482.3 580.9,466 583.2,472.5 587.3,483.1 592.2,475.8 597.9,477.4 604.4,480.6 609.2,479.8 614.9,483.9 619.8,488 624.6,466.9 629.5,466 635.2,468.5 640.9,461.2 646.6,459.5 652.2,454.7 657.9,459.5 662.8,465.2 667.7,464.4 672.5,462 677.5,470.1" fill="none" stroke="#c6c6c6" stroke-width="2.8" stroke-linejoin="round" stroke-linecap="round"/>
<polyline points="402.5,449.4 404.8,439.3 410.4,434.8 416,432 420.5,430.8 426.2,432.5 431.8,435.9 436.3,443.8 438.6,442.7 441.9,432.5 446.5,428 451,423.5 454.3,421.3 458.8,421.3 466.2,422.2 472.7,423 479.2,423 485.7,442.5 491.2,439.3 498,433.6 504,428 511,425 517,426 524.1,428.7 531,426 538.7,423 545.2,431.9 551.7,446.6 558.2,454.7 561.4,467.7 567.9,467.7 572.8,462.8 579.3,467.7 586.5,461.2 593,457.1 599.5,456.3 604.4,453.1 609.2,444.9 614.1,435.2 619,424.6 624.6,433.6 629.5,438.4 635.2,457.9 640.9,459.5 646.6,459.5 651.4,454.7 657.9,453.1 664.4,449.8 672.5,445.7 677.5,449.8" fill="none" stroke="#f4c6a7" stroke-width="2.8" stroke-linejoin="round" stroke-linecap="round"/>
<polyline points="401.5,451.7 405.9,454.5 410.4,455.1 416,449.4 421.7,447.2 427.3,444.9 431.8,442.1 436.3,446.1 441.9,448.9 446.5,447.7 449.8,442.7 453.2,436.5 458.8,437.6 463.4,430.3 469,438.2 473.5,439.3 477.5,448 480,456.3 484.9,465.2 490.5,449.8 495.7,434.4 501.4,451.4 507,463.6 512.7,454.7 517.6,449.8 523.3,437.6 529,444.9 533.8,443.3 538.7,446.6 544.4,456.3 550.1,451.4 554.9,450.6 559.8,439.3 565.5,440.9 571.2,441.7 576,438.4 580,430.3 583.2,428.7 587.3,430.3 592.2,425.5 597,427.1 602.7,417.3 608.4,413.3 614.1,404.4 619,410 623.8,415.7 629.5,427.9 635.2,417.3 640.9,422.2 646.6,423 652.2,424.6 657.9,423 662.8,423 667.7,438.4 672.5,428.7 677.5,428.7" fill="none" stroke="#878787" stroke-width="2.8" stroke-linejoin="round" stroke-linecap="round"/>
<polyline points="404.7,422.5 410.1,429.9 415.5,421.6 420.8,412.2 426.2,407.8 431.6,399.9 442.3,406.8 447.7,399.9 453.1,407.3 458.5,414.2 463.8,419.8 469.2,420.4 474.6,418.7 480,412 485.3,426.1 490.7,424.4 496.1,412 501.5,421 506.8,442.8 512.2,431.7 517.6,424.4 523,423.8 528.3,414.2" fill="none" stroke="#ed7d31" stroke-width="2.8" stroke-linejoin="round" stroke-linecap="round"/>
<rect x="400.8" y="418.6" width="7.8" height="7.8" fill="#ed7d31"/>
<rect x="406.2" y="426" width="7.8" height="7.8" fill="#ed7d31"/>
<rect x="411.6" y="417.7" width="7.8" height="7.8" fill="#ed7d31"/>
<rect x="416.9" y="408.3" width="7.8" height="7.8" fill="#ed7d31"/>
<rect x="422.3" y="403.9" width="7.8" height="7.8" fill="#ed7d31"/>
<rect x="427.7" y="396" width="7.8" height="7.8" fill="#ed7d31"/>
<rect x="438.4" y="402.9" width="7.8" height="7.8" fill="#ed7d31"/>
<rect x="443.8" y="396" width="7.8" height="7.8" fill="#ed7d31"/>
<rect x="449.2" y="403.4" width="7.8" height="7.8" fill="#ed7d31"/>
<rect x="454.6" y="410.3" width="7.8" height="7.8" fill="#ed7d31"/>
<rect x="459.9" y="415.9" width="7.8" height="7.8" fill="#ed7d31"/>
<rect x="465.3" y="416.5" width="7.8" height="7.8" fill="#ed7d31"/>
<rect x="470.7" y="414.8" width="7.8" height="7.8" fill="#ed7d31"/>
<rect x="476.1" y="408.1" width="7.8" height="7.8" fill="#ed7d31"/>
<rect x="481.4" y="422.2" width="7.8" height="7.8" fill="#ed7d31"/>
<rect x="486.8" y="420.5" width="7.8" height="7.8" fill="#ed7d31"/>
<rect x="492.2" y="408.1" width="7.8" height="7.8" fill="#ed7d31"/>
<rect x="497.6" y="417.1" width="7.8" height="7.8" fill="#ed7d31"/>
<rect x="502.9" y="438.9" width="7.8" height="7.8" fill="#ed7d31"/>
<rect x="508.3" y="427.8" width="7.8" height="7.8" fill="#ed7d31"/>
<rect x="513.7" y="420.5" width="7.8" height="7.8" fill="#ed7d31"/>
<rect x="519.1" y="419.9" width="7.8" height="7.8" fill="#ed7d31"/>
<rect x="524.4" y="410.3" width="7.8" height="7.8" fill="#ed7d31"/>
</g>
<rect x="9" y="600.6" width="340" height="1" fill="#3a3a3a"/>
<rect x="9" y="620.6" width="340" height="1" fill="#3a3a3a"/>
<text x="12.2" y="617" font-size="13.5" fill="#111"><tspan stroke="#111" stroke-width="0.3">图表</tspan><tspan font-weight="bold" dx="1" dy="0.4">19</tspan></text>
<text x="70.5" y="616.9" font-size="12.73" fill="#111" stroke="#111" stroke-width="0.3">本周纯苯开工率自低位反弹，同比跌幅收窄</text>
<rect x="9" y="836.5" width="340" height="1" fill="#4a4a4a"/>
<rect x="9" y="853.1" width="340" height="1.4" fill="#8a8a8a"/>
<text x="12.2" y="849.9" font-size="11.3" font-style="italic" fill="#222">资料来源:wind，平安证券研究所</text>
<text x="24" y="645.6" font-size="12.5" fill="#111">%</text>
<text x="110" y="647.4" font-size="14" fill="#111" stroke="#111" stroke-width="0.35">开工率:纯苯:下游行业</text>
<line x1="69.6" y1="656.3" x2="96.2" y2="656.3" stroke="#c6c6c6" stroke-width="2.8" stroke-linecap="round"/>
<text x="99.8" y="660.7" font-size="13" fill="#111">2019</text>
<line x1="165.5" y1="656.3" x2="192.1" y2="656.3" stroke="#f1f1f1" stroke-width="2.8" stroke-linecap="round"/>
<text x="195.7" y="660.7" font-size="13" fill="#111">2020</text>
<line x1="261.4" y1="656.3" x2="288" y2="656.3" stroke="#fce8da" stroke-width="2.8" stroke-linecap="round"/>
<text x="291.6" y="660.7" font-size="13" fill="#111">2021</text>
<line x1="69.6" y1="677.2" x2="96.2" y2="677.2" stroke="#f4c6a7" stroke-width="2.8" stroke-linecap="round"/>
<text x="99.8" y="681.6" font-size="13" fill="#111">2022</text>
<line x1="165.5" y1="677.2" x2="192.1" y2="677.2" stroke="#878787" stroke-width="2.8" stroke-linecap="round"/>
<text x="195.7" y="681.6" font-size="13" fill="#111">2023</text>
<line x1="261.4" y1="677.2" x2="288" y2="677.2" stroke="#ed7d31" stroke-width="2.8" stroke-linecap="round"/>
<rect x="270.9" y="673.3" width="7.8" height="7.8" fill="#ed7d31"/>
<text x="291.6" y="681.6" font-size="13" fill="#111">2024</text>
<path d="M50.4 679.8V809.4H328.2" fill="none" stroke="#868686" stroke-width="1"/>
<line x1="50.4" y1="809.4" x2="54.4" y2="809.4" stroke="#868686" stroke-width="1"/>
<text x="36.5" y="813.2" font-size="13" text-anchor="end" fill="#111">65</text>
<line x1="50.4" y1="783.5" x2="54.4" y2="783.5" stroke="#868686" stroke-width="1"/>
<text x="36.5" y="787.3" font-size="13" text-anchor="end" fill="#111">70</text>
<line x1="50.4" y1="757.6" x2="54.4" y2="757.6" stroke="#868686" stroke-width="1"/>
<text x="36.5" y="761.4" font-size="13" text-anchor="end" fill="#111">75</text>
<line x1="50.4" y1="731.6" x2="54.4" y2="731.6" stroke="#868686" stroke-width="1"/>
<text x="36.5" y="735.4" font-size="13" text-anchor="end" fill="#111">80</text>
<line x1="50.4" y1="705.7" x2="54.4" y2="705.7" stroke="#868686" stroke-width="1"/>
<text x="36.5" y="709.5" font-size="13" text-anchor="end" fill="#111">85</text>
<line x1="50.4" y1="679.8" x2="54.4" y2="679.8" stroke="#868686" stroke-width="1"/>
<text x="36.5" y="683.6" font-size="13" text-anchor="end" fill="#111">90</text>
<text x="50.4" y="828.8" font-size="13" text-anchor="middle" fill="#111">01</text>
<line x1="74.2" y1="809.4" x2="74.2" y2="805.4" stroke="#868686" stroke-width="1"/>
<text x="74.2" y="828.8" font-size="13" text-anchor="middle" fill="#111">02</text>
<line x1="95.7" y1="809.4" x2="95.7" y2="805.4" stroke="#868686" stroke-width="1"/>
<text x="95.7" y="828.8" font-size="13" text-anchor="middle" fill="#111">03</text>
<line x1="119.5" y1="809.4" x2="119.5" y2="805.4" stroke="#868686" stroke-width="1"/>
<text x="119.5" y="828.8" font-size="13" text-anchor="middle" fill="#111">04</text>
<line x1="142.6" y1="809.4" x2="142.6" y2="805.4" stroke="#868686" stroke-width="1"/>
<text x="142.6" y="828.8" font-size="13" text-anchor="middle" fill="#111">05</text>
<line x1="166.4" y1="809.4" x2="166.4" y2="805.4" stroke="#868686" stroke-width="1"/>
<text x="166.4" y="828.8" font-size="13" text-anchor="middle" fill="#111">06</text>
<line x1="189.5" y1="809.4" x2="189.5" y2="805.4" stroke="#868686" stroke-width="1"/>
<text x="189.5" y="828.8" font-size="13" text-anchor="middle" fill="#111">07</text>
<line x1="213.3" y1="809.4" x2="213.3" y2="805.4" stroke="#868686" stroke-width="1"/>
<text x="213.3" y="828.8" font-size="13" text-anchor="middle" fill="#111">08</text>
<line x1="237.1" y1="809.4" x2="237.1" y2="805.4" stroke="#868686" stroke-width="1"/>
<text x="237.1" y="828.8" font-size="13" text-anchor="middle" fill="#111">09</text>
<line x1="260.1" y1="809.4" x2="260.1" y2="805.4" stroke="#868686" stroke-width="1"/>
<text x="260.1" y="828.8" font-size="13" text-anchor="middle" fill="#111">10</text>
<line x1="284" y1="809.4" x2="284" y2="805.4" stroke="#868686" stroke-width="1"/>
<text x="284" y="828.8" font-size="13" text-anchor="middle" fill="#111">11</text>
<line x1="307" y1="809.4" x2="307" y2="805.4" stroke="#868686" stroke-width="1"/>
<text x="307" y="828.8" font-size="13" text-anchor="middle" fill="#111">12</text>
<clipPath id="cp4"><rect x="45.4" y="667.8" width="283.8" height="141.6"/></clipPath>
<g clip-path="url(#cp4)">
<polyline points="133.8,743.5 139.4,730.8 143.7,732.3 149.3,736.5 156.3,737.9 163.4,740.7 173.2,746.3 181.7,744.9 190.1,742.1 198.5,740.7 204.1,736.5 209.7,732.3 215.4,735.1 219.6,742.1 226.6,739.3 232.3,743.5 237.9,744.2 243.5,744.9 249.2,743.5 254.8,744.9 260,746 270,748 280,750 293.5,755 299.9,756.3 306.3,763.9 311.4,771.6 316.5,774.1 321.6,775.4 327,778" fill="none" stroke="#f1f1f1" stroke-width="2.8" stroke-linejoin="round" stroke-linecap="round"/>
<polyline points="51.9,779.9 56.6,769.4 61.2,760.2 65.8,755.6 69.3,737 73.9,737 79.7,739.4 84.4,744 89,749.8 93.6,746.3 97,742 102,746 108,752 115,756 122,757 130,755 139.4,749.2 142.3,736.5 147.9,730.8 153.5,733.7 159.2,722.4 166.2,704.1 171.8,705.5 176.8,696.3 181.7,712.5 187.3,728 190,723.8 192.8,705.5 198.5,723.8 203.4,711.1 208.3,729.4 213.9,723.1 219.6,730.8 226.6,733 232.3,732.3 237.9,733 243.5,733.7 249.2,732.3 254.8,733.7 260.4,739.3 266.1,746.3 271.7,749.2 278.2,738.4 283.3,743.5 288.4,747.4 293.5,748.6 298.6,743.5 305,735.9 310.1,741 316.5,748.6 321.6,741 327,742.3" fill="none" stroke="#fce8da" stroke-width="2.8" stroke-linejoin="round" stroke-linecap="round"/>
<polyline points="51.4,740.5 56.6,742.8 61.2,747.5 64.7,749.8 68,742 72,733 78,730 85,729 90.8,726.3 96.5,724.6 100,726.6 105.6,732.3 109.9,744.9 114.1,754.8 119.7,756.2 123.9,767.5 129.3,773 135.1,775.4 140.9,770.7 146.5,768.9 152.3,765 154.8,755.7 159.4,746.4 165.2,742.9 169.9,744.6 173.3,748.7 177.5,763.2 182.6,764.9 187.2,755.7 191.9,762.6 194.2,768.9 198.5,763.9 204.1,773.1 209.7,777.3 214.6,782.3 219.6,771.7 225.2,762.5 230.8,766.1 236.5,763.2 242.1,758.3 247.7,759.7 252,767.5 257.4,761 262.9,752.5 267.4,750.6 273.1,755 278.9,752.5 283.3,765.9 288.4,766.5 293.5,766.5 299.9,765.2 305.7,771.6 310.8,760.1 316.5,760.8 321.6,769 327,769" fill="none" stroke="#f4c6a7" stroke-width="2.8" stroke-linejoin="round" stroke-linecap="round"/>
<polyline points="50.2,768.3 54,765.2 58.9,760.8 64.1,749.2 69.3,749.8 75.1,750.9 80.3,744.6 86.1,753.2 91.4,749 97,742 102.6,745.5 107.6,744.8 111.3,749.2 116.9,752 122.5,749.2 128.2,756.2 133.8,758.3 139.4,757.6 145.1,756.2 149.3,754.1 153.5,757.6 157.7,760.4 162,756.2 167.6,750.6 171.8,746.3 176.1,753.4 180.3,764.6 185.9,771.7 190,771 194.2,766.8 199.2,769.6 204.1,770.3 208.3,761.8 213.9,752 219.6,747 225.2,737.2 230.8,735.8 235.8,737.9 241.4,730.8 246.4,738.4 252.1,743.5 257.8,741 262.9,732.1 268,747.4 273.8,752.5 278.2,746.7 284.6,754.4 290.4,751.2 295.5,748.6 300.6,741 305.7,748 310.8,734.6 316.5,726.3 321.6,727 327,730.8" fill="none" stroke="#878787" stroke-width="2.8" stroke-linejoin="round" stroke-linecap="round"/>
<polyline points="53.1,735.2 58.5,734.1 63.9,725.1 69.2,725.6 74.6,724 80,727.9 85.4,729.6 90.8,730.7 96.1,736.3 101.5,738 106.9,737.5 112.3,733.5 117.7,742 123,747 128.4,753.8 133.8,769.5 139.2,782.2 149.9,753.8 155.3,767.7 160.7,782.8 166.1,783.4 171.5,780.5 176.8,770.1" fill="none" stroke="#ed7d31" stroke-width="2.8" stroke-linejoin="round" stroke-linecap="round"/>
<rect x="49.2" y="731.3" width="7.8" height="7.8" fill="#ed7d31"/>
<rect x="54.6" y="730.2" width="7.8" height="7.8" fill="#ed7d31"/>
<rect x="60" y="721.2" width="7.8" height="7.8" fill="#ed7d31"/>
<rect x="65.3" y="721.7" width="7.8" height="7.8" fill="#ed7d31"/>
<rect x="70.7" y="720.1" width="7.8" height="7.8" fill="#ed7d31"/>
<rect x="76.1" y="724" width="7.8" height="7.8" fill="#ed7d31"/>
<rect x="81.5" y="725.7" width="7.8" height="7.8" fill="#ed7d31"/>
<rect x="86.9" y="726.8" width="7.8" height="7.8" fill="#ed7d31"/>
<rect x="92.2" y="732.4" width="7.8" height="7.8" fill="#ed7d31"/>
<rect x="97.6" y="734.1" width="7.8" height="7.8" fill="#ed7d31"/>
<rect x="103" y="733.6" width="7.8" height="7.8" fill="#ed7d31"/>
<rect x="108.4" y="729.6" width="7.8" height="7.8" fill="#ed7d31"/>
<rect x="113.8" y="738.1" width="7.8" height="7.8" fill="#ed7d31"/>
<rect x="119.1" y="743.1" width="7.8" height="7.8" fill="#ed7d31"/>
<rect x="124.5" y="749.9" width="7.8" height="7.8" fill="#ed7d31"/>
<rect x="129.9" y="765.6" width="7.8" height="7.8" fill="#ed7d31"/>
<rect x="135.3" y="778.3" width="7.8" height="7.8" fill="#ed7d31"/>
<rect x="146" y="749.9" width="7.8" height="7.8" fill="#ed7d31"/>
<rect x="151.4" y="763.8" width="7.8" height="7.8" fill="#ed7d31"/>
<rect x="156.8" y="778.9" width="7.8" height="7.8" fill="#ed7d31"/>
<rect x="162.2" y="779.5" width="7.8" height="7.8" fill="#ed7d31"/>
<rect x="167.6" y="776.6" width="7.8" height="7.8" fill="#ed7d31"/>
<rect x="172.9" y="766.2" width="7.8" height="7.8" fill="#ed7d31"/>
</g>
<rect x="361" y="600.6" width="340" height="1" fill="#3a3a3a"/>
<rect x="361" y="620.6" width="340" height="1" fill="#3a3a3a"/>
<text x="364.2" y="617" font-size="13.5" fill="#111"><tspan stroke="#111" stroke-width="0.3">图表</tspan><tspan font-weight="bold" dx="1" dy="0.4">20</tspan></text>
<text x="422.5" y="616.9" font-size="12.73" fill="#111" stroke="#111" stroke-width="0.3">本周聚氯乙烯开工率微升，同比涨幅扩大</text>
<rect x="361" y="836.5" width="340" height="1" fill="#4a4a4a"/>
<rect x="361" y="853.1" width="340" height="1.4" fill="#8a8a8a"/>
<text x="364.2" y="849.9" font-size="11.3" font-style="italic" fill="#222">资料来源:wind，平安证券研究所</text>
<text x="376" y="645.6" font-size="12.5" fill="#111">%</text>
<text x="454.7" y="647.4" font-size="14" fill="#111" stroke="#111" stroke-width="0.35">开工率:聚氯乙烯(PVC)</text>
<line x1="421" y1="656.3" x2="447.6" y2="656.3" stroke="#c6c6c6" stroke-width="2.8" stroke-linecap="round"/>
<text x="451.2" y="660.7" font-size="13" fill="#111">2019</text>
<line x1="517.1" y1="656.3" x2="543.7" y2="656.3" stroke="#f1f1f1" stroke-width="2.8" stroke-linecap="round"/>
<text x="547.3" y="660.7" font-size="13" fill="#111">2020</text>
<line x1="613.2" y1="656.3" x2="639.8" y2="656.3" stroke="#fce8da" stroke-width="2.8" stroke-linecap="round"/>
<text x="643.4" y="660.7" font-size="13" fill="#111">2021</text>
<line x1="421" y1="677.2" x2="447.6" y2="677.2" stroke="#f4c6a7" stroke-width="2.8" stroke-linecap="round"/>
<text x="451.2" y="681.6" font-size="13" fill="#111">2022</text>
<line x1="517.1" y1="677.2" x2="543.7" y2="677.2" stroke="#878787" stroke-width="2.8" stroke-linecap="round"/>
<text x="547.3" y="681.6" font-size="13" fill="#111">2023</text>
<line x1="613.2" y1="677.2" x2="639.8" y2="677.2" stroke="#ed7d31" stroke-width="2.8" stroke-linecap="round"/>
<rect x="622.7" y="673.3" width="7.8" height="7.8" fill="#ed7d31"/>
<text x="643.4" y="681.6" font-size="13" fill="#111">2024</text>
<path d="M401.4 679.8V809.4H678.2" fill="none" stroke="#868686" stroke-width="1"/>
<line x1="401.4" y1="809.4" x2="405.4" y2="809.4" stroke="#868686" stroke-width="1"/>
<text x="387.4" y="813.2" font-size="13" text-anchor="end" fill="#111">60</text>
<line x1="401.4" y1="787.8" x2="405.4" y2="787.8" stroke="#868686" stroke-width="1"/>
<text x="387.4" y="791.6" font-size="13" text-anchor="end" fill="#111">65</text>
<line x1="401.4" y1="766.2" x2="405.4" y2="766.2" stroke="#868686" stroke-width="1"/>
<text x="387.4" y="770" font-size="13" text-anchor="end" fill="#111">70</text>
<line x1="401.4" y1="744.6" x2="405.4" y2="744.6" stroke="#868686" stroke-width="1"/>
<text x="387.4" y="748.4" font-size="13" text-anchor="end" fill="#111">75</text>
<line x1="401.4" y1="723" x2="405.4" y2="723" stroke="#868686" stroke-width="1"/>
<text x="387.4" y="726.8" font-size="13" text-anchor="end" fill="#111">80</text>
<line x1="401.4" y1="701.4" x2="405.4" y2="701.4" stroke="#868686" stroke-width="1"/>
<text x="387.4" y="705.2" font-size="13" text-anchor="end" fill="#111">85</text>
<line x1="401.4" y1="679.8" x2="405.4" y2="679.8" stroke="#868686" stroke-width="1"/>
<text x="387.4" y="683.6" font-size="13" text-anchor="end" fill="#111">90</text>
<text x="401.4" y="828.8" font-size="13" text-anchor="middle" fill="#111">01</text>
<line x1="425.2" y1="809.4" x2="425.2" y2="805.4" stroke="#868686" stroke-width="1"/>
<text x="425.2" y="828.8" font-size="13" text-anchor="middle" fill="#111">02</text>
<line x1="446.7" y1="809.4" x2="446.7" y2="805.4" stroke="#868686" stroke-width="1"/>
<text x="446.7" y="828.8" font-size="13" text-anchor="middle" fill="#111">03</text>
<line x1="470.5" y1="809.4" x2="470.5" y2="805.4" stroke="#868686" stroke-width="1"/>
<text x="470.5" y="828.8" font-size="13" text-anchor="middle" fill="#111">04</text>
<line x1="493.5" y1="809.4" x2="493.5" y2="805.4" stroke="#868686" stroke-width="1"/>
<text x="493.5" y="828.8" font-size="13" text-anchor="middle" fill="#111">05</text>
<line x1="517.3" y1="809.4" x2="517.3" y2="805.4" stroke="#868686" stroke-width="1"/>
<text x="517.3" y="828.8" font-size="13" text-anchor="middle" fill="#111">06</text>
<line x1="540.3" y1="809.4" x2="540.3" y2="805.4" stroke="#868686" stroke-width="1"/>
<text x="540.3" y="828.8" font-size="13" text-anchor="middle" fill="#111">07</text>
<line x1="564.1" y1="809.4" x2="564.1" y2="805.4" stroke="#868686" stroke-width="1"/>
<text x="564.1" y="828.8" font-size="13" text-anchor="middle" fill="#111">08</text>
<line x1="587.9" y1="809.4" x2="587.9" y2="805.4" stroke="#868686" stroke-width="1"/>
<text x="587.9" y="828.8" font-size="13" text-anchor="middle" fill="#111">09</text>
<line x1="611" y1="809.4" x2="611" y2="805.4" stroke="#868686" stroke-width="1"/>
<text x="611" y="828.8" font-size="13" text-anchor="middle" fill="#111">10</text>
<line x1="634.8" y1="809.4" x2="634.8" y2="805.4" stroke="#868686" stroke-width="1"/>
<text x="634.8" y="828.8" font-size="13" text-anchor="middle" fill="#111">11</text>
<line x1="657.8" y1="809.4" x2="657.8" y2="805.4" stroke="#868686" stroke-width="1"/>
<text x="657.8" y="828.8" font-size="13" text-anchor="middle" fill="#111">12</text>
<clipPath id="cp5"><rect x="396.4" y="667.8" width="282.8" height="141.6"/></clipPath>
<g clip-path="url(#cp5)">
<polyline points="401.5,711 406.5,713.8 414.9,727.9 420.5,739.2 426.2,747.6 431.8,764.5 436.7,777.2 443.1,764.5 448.7,753.2 454.3,743.4 460,726.5 465.6,722.3 471.2,730.7 475.5,747.6 479.7,764.5 482.5,773 488,765 495,760 502,755 510,752 517,754 523.8,756.1 529.4,758.9 535.1,756.1 540.7,743.4 549.2,736.3 556.2,737.7 560.4,733.5 566.1,732.1 571.7,726.5 580,726 590,735 600,748 610,745 620,742 630,745 640,748 650,738 660,733 670,735 677.5,738" fill="none" stroke="#f1f1f1" stroke-width="2.8" stroke-linejoin="round" stroke-linecap="round"/>
<polyline points="401.5,715.2 406.5,713.8 412.1,713.1 419.1,713.8 424.8,708.2 431.8,692.7 437.4,694.1 443.1,689.9 448,687 451.5,691.3 455.7,698.3 460,709.6 464.2,718 471.5,720 478,726 483.8,732.2 490,745 496,756.7 502,758 508,750 513,738 518.1,733.8 522.6,716.9 527.1,706.8 532.3,703.9 537.9,702.5 543.5,703.2 549.2,701.1 553.4,711 557.6,733.5 563.2,746.2 568.9,739.2 574.5,725.1 580,733.5 585.6,743.4 591.3,753.2 596.9,777.2 602.5,761.7 608.2,760.3 613.8,787 619.4,775.8 625.1,763.1 630.7,750.4 636.3,751.8 642,749 647.6,746.2 653.2,740.6 658.9,734.9 664.5,740.6 670.1,743.4 677.5,747.6" fill="none" stroke="#fce8da" stroke-width="2.8" stroke-linejoin="round" stroke-linecap="round"/>
<polyline points="575.9,732.1 581.5,723.7 585.6,734.9 592.7,740.6 597.6,715.2 602.5,718 608.2,725.1 613.8,726.5 619.4,726.5 625.1,736.3 630.7,742 636.3,743.4 640.6,737.7 645.5,725.1 650.4,730.7 656.8,726.5 661.7,720.8 667.3,726.5 673,720.1 677.5,718.7" fill="none" stroke="#c6c6c6" stroke-width="2.8" stroke-linejoin="round" stroke-linecap="round"/>
<polyline points="401.5,746.2 405.9,744.4 409.8,746.4 412.8,740.5 417.7,732.6 423.6,731.6 430.5,729.7 436,728 442,724 448,720 455,715 460.6,712.4 466.3,714.6 471,713 476.4,712.4 482,720.3 485.4,726 490,722 496,722 504,722 512,724 518.2,725.1 523.8,733.5 530.8,739.2 537.9,742 544.2,730 550.6,733.5 557.6,737.7 563.2,742 568.9,746.2 574.5,757.5 580,768.7 585.6,758.9 591.3,747.6 597.6,733.5 602.5,740.6 608.2,747.6 613.8,733.5 618.7,740.6 623.7,750.4 629.3,760.3 634.9,777.2 640.6,774.4 646.2,768 651.8,769.4 657.5,764.5 663.1,761 668,758.2 673,744.8 677.5,733.5" fill="none" stroke="#f4c6a7" stroke-width="2.8" stroke-linejoin="round" stroke-linecap="round"/>
<polyline points="401.5,736.3 404.3,744.8 409.3,740.6 415.6,734.9 420.5,737 426.2,743.4 431.8,739.2 438.8,733.5 444.5,728.6 448,728.6 454.3,734.2 460,736.3 465.6,739.2 469.1,743.4 474.2,737.2 479.8,742.8 483.2,756.3 486,764.2 490.5,765.4 495.6,742 500.6,754.6 506.2,757.5 511.8,760.3 517.5,751.8 523.1,764.5 528,773 533.7,778.6 539.3,774.4 544.9,751.1 549.9,756.1 555.5,751.1 561.8,749 569.6,749 575.9,754.6 580,756.8 585.6,756.8 591.3,749 596.9,742.7 602.5,736.3 608.2,725.1 613.8,720.8 618.7,727.9 624.4,747.6 629.3,734.9 635.6,738.5 640.6,744.8 646.2,737.7 651.8,736.3 656.8,729.3 662.4,717.3 667.3,729.3 673,742 677.5,734.9" fill="none" stroke="#878787" stroke-width="2.8" stroke-linejoin="round" stroke-linecap="round"/>
<polyline points="404.6,725.3 410,722.3 415.4,723 420.7,723.8 426.1,723.5 431.5,723.5 436.9,720.5 442.2,719 447.6,721 453,718.5 458.4,727.5 463.7,721.5 469.1,720.3 474.5,732.1 479.9,747.9 485.2,751.8 490.6,736.1 496,723.1 501.4,711.8 506.7,728.7 512.1,741.7 517.5,736.1 522.9,742.8 528.2,740" fill="none" stroke="#ed7d31" stroke-width="2.8" stroke-linejoin="round" stroke-linecap="round"/>
<rect x="400.7" y="721.4" width="7.8" height="7.8" fill="#ed7d31"/>
<rect x="406.1" y="718.4" width="7.8" height="7.8" fill="#ed7d31"/>
<rect x="411.5" y="719.1" width="7.8" height="7.8" fill="#ed7d31"/>
<rect x="416.8" y="719.9" width="7.8" height="7.8" fill="#ed7d31"/>
<rect x="422.2" y="719.6" width="7.8" height="7.8" fill="#ed7d31"/>
<rect x="427.6" y="719.6" width="7.8" height="7.8" fill="#ed7d31"/>
<rect x="433" y="716.6" width="7.8" height="7.8" fill="#ed7d31"/>
<rect x="438.3" y="715.1" width="7.8" height="7.8" fill="#ed7d31"/>
<rect x="443.7" y="717.1" width="7.8" height="7.8" fill="#ed7d31"/>
<rect x="449.1" y="714.6" width="7.8" height="7.8" fill="#ed7d31"/>
<rect x="454.5" y="723.6" width="7.8" height="7.8" fill="#ed7d31"/>
<rect x="459.8" y="717.6" width="7.8" height="7.8" fill="#ed7d31"/>
<rect x="465.2" y="716.4" width="7.8" height="7.8" fill="#ed7d31"/>
<rect x="470.6" y="728.2" width="7.8" height="7.8" fill="#ed7d31"/>
<rect x="476" y="744" width="7.8" height="7.8" fill="#ed7d31"/>
<rect x="481.3" y="747.9" width="7.8" height="7.8" fill="#ed7d31"/>
<rect x="486.7" y="732.2" width="7.8" height="7.8" fill="#ed7d31"/>
<rect x="492.1" y="719.2" width="7.8" height="7.8" fill="#ed7d31"/>
<rect x="497.5" y="707.9" width="7.8" height="7.8" fill="#ed7d31"/>
<rect x="502.8" y="724.8" width="7.8" height="7.8" fill="#ed7d31"/>
<rect x="508.2" y="737.8" width="7.8" height="7.8" fill="#ed7d31"/>
<rect x="513.6" y="732.2" width="7.8" height="7.8" fill="#ed7d31"/>
<rect x="519" y="738.9" width="7.8" height="7.8" fill="#ed7d31"/>
<rect x="524.3" y="736.1" width="7.8" height="7.8" fill="#ed7d31"/>
</g>
</svg></body></html>
